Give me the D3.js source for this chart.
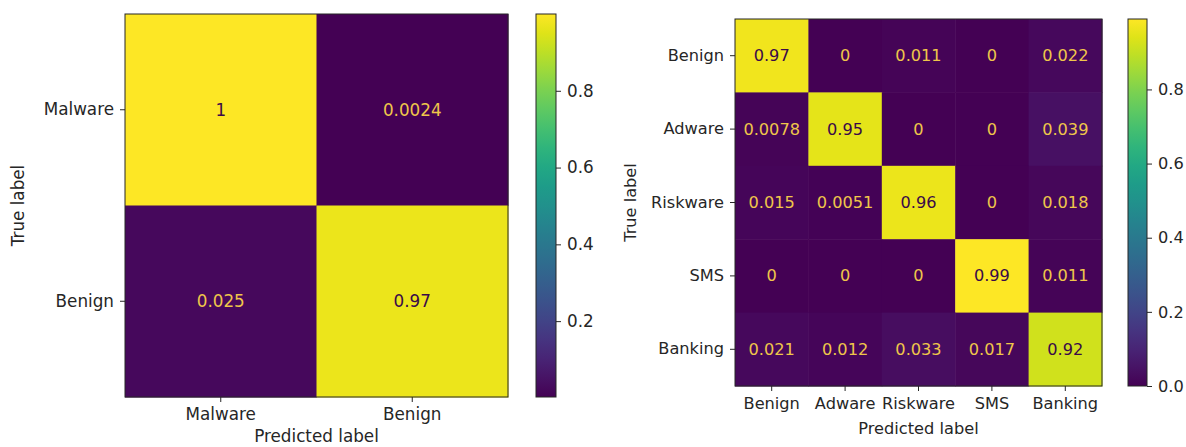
<!DOCTYPE html>
<html>
<head>
<meta charset="utf-8">
<script src="https://cdn.jsdelivr.net/npm/d3@7"></script>
<style>
  html, body { margin: 0; padding: 0; background: #fff; }
  svg { display: block; font-family: "DejaVu Sans", sans-serif; }
  .tick text { fill: #262626; }
  .tick line, .domain { stroke: #262626; }
</style>
</head>
<body>
<svg id="chart" width="1186" height="447"></svg>
<script>
// Binary classifier: normalised confusion matrix
const binaryLabels = ["Malware", "Benign"];
const binaryValues = [
  [1, 0.0024],
  [0.025, 0.97]
];
const binaryCbarTicks = [0.2, 0.4, 0.6, 0.8];

// Family classifier: normalised confusion matrix
const familyLabels = ["Benign", "Adware", "Riskware", "SMS", "Banking"];
const familyValues = [
  [0.97, 0, 0.011, 0, 0.022],
  [0.0078, 0.95, 0, 0, 0.039],
  [0.015, 0.0051, 0.96, 0, 0.018],
  [0, 0, 0, 0.99, 0.011],
  [0.021, 0.012, 0.033, 0.017, 0.92]
];
const familyCbarTicks = [0.0, 0.2, 0.4, 0.6, 0.8];

const svg = d3.select("#chart");
const darkText = "#3a0a48";
const lightText = "#efc64a";

function fmt(v) {
  // short general-number format, like "%.2g"
  if (v === 0) return "0";
  if (v === 1) return "1";
  return String(+v.toPrecision(2));
}

function drawMatrix(opt) {
  const { labels, values, cbarTicks, x0, y0, size, cbX, cbW, fs, xTitleY, yTitleX } = opt;
  const g = svg.append("g");
  const flat = values.flat();
  const vmin = d3.min(flat), vmax = d3.max(flat);
  const color = d3.scaleSequential(d3.interpolateViridis).domain([vmin, vmax]);
  const thresh = (vmin + vmax) / 2;

  const x = d3.scaleBand().domain(labels).range([x0, x0 + size]);
  const y = d3.scaleBand().domain(labels).range([y0, y0 + size]);

  const cells = [];
  values.forEach((row, i) => row.forEach((v, j) => cells.push({ r: labels[i], c: labels[j], v })));

  g.selectAll("rect.cell").data(cells).join("rect")
    .attr("class", "cell")
    .attr("x", d => x(d.c)).attr("y", d => y(d.r))
    .attr("width", x.bandwidth() + 0.5).attr("height", y.bandwidth() + 0.5)
    .attr("fill", d => color(d.v));

  g.selectAll("text.val").data(cells).join("text")
    .attr("class", "val")
    .attr("x", d => x(d.c) + x.bandwidth() / 2)
    .attr("y", d => y(d.r) + y.bandwidth() / 2)
    .attr("text-anchor", "middle").attr("dominant-baseline", "central")
    .attr("font-size", fs)
    .attr("fill", d => d.v < thresh ? lightText : darkText)
    .text(d => fmt(d.v));

  // frame
  g.append("rect").attr("x", x0).attr("y", y0).attr("width", size).attr("height", size)
    .attr("fill", "none").attr("stroke", "#262626").attr("stroke-width", 1);

  const xAxis = g.append("g").attr("transform", `translate(0,${y0 + size})`)
    .call(d3.axisBottom(x).tickSize(5).tickPadding(6));
  const yAxis = g.append("g").attr("transform", `translate(${x0},0)`)
    .call(d3.axisLeft(y).tickSize(5).tickPadding(6));
  [xAxis, yAxis].forEach(a => {
    a.select(".domain").remove();
    a.selectAll("text").attr("font-size", fs).attr("font-family", "DejaVu Sans");
  });

  g.append("text").attr("x", x0 + size / 2).attr("y", xTitleY)
    .attr("text-anchor", "middle").attr("font-size", fs).attr("fill", "#262626")
    .text("Predicted label");
  g.append("text")
    .attr("transform", `translate(${yTitleX},${y0 + size / 2}) rotate(-90)`)
    .attr("text-anchor", "middle").attr("font-size", fs).attr("fill", "#262626")
    .text("True label");

  // colour bar
  const gradId = "grad" + labels.length;
  const grad = svg.append("defs").append("linearGradient").attr("id", gradId)
    .attr("x1", 0).attr("y1", 1).attr("x2", 0).attr("y2", 0);
  d3.range(0, 1.0001, 0.05).forEach(t => {
    grad.append("stop").attr("offset", t).attr("stop-color", d3.interpolateViridis(t));
  });
  const cy = d3.scaleLinear().domain([vmin, vmax]).range([y0 + size, y0]);
  g.append("rect").attr("x", cbX).attr("y", y0).attr("width", cbW).attr("height", size)
    .attr("fill", `url(#${gradId})`).attr("stroke", "#262626").attr("stroke-width", 1);
  const cAxis = g.append("g").attr("transform", `translate(${cbX + cbW},0)`)
    .call(d3.axisRight(cy).tickValues(cbarTicks).tickFormat(d3.format(".1f")).tickSize(5).tickPadding(6));
  cAxis.select(".domain").remove();
  cAxis.selectAll("text").attr("font-size", fs).attr("font-family", "DejaVu Sans");
}

drawMatrix({
  labels: binaryLabels, values: binaryValues, cbarTicks: binaryCbarTicks,
  x0: 125, y0: 14, size: 383, cbX: 536, cbW: 20, fs: 16.8, xTitleY: 442, yTitleX: 24
});

drawMatrix({
  labels: familyLabels, values: familyValues, cbarTicks: familyCbarTicks,
  x0: 735, y0: 19, size: 367, cbX: 1128, cbW: 19, fs: 16.2, xTitleY: 434, yTitleX: 636
});
</script>
</body>
</html>
